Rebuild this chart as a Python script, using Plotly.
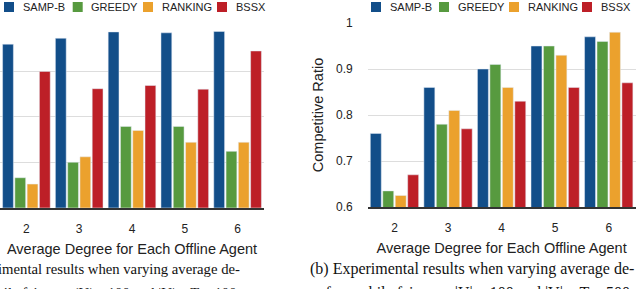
import plotly.graph_objects as go

W, H = 640, 289

categories = ["2", "3", "4", "5", "6"]
series_names = ["SAMP-B", "GREEDY", "RANKING", "BSSX"]
colors = ["#124e89", "#579a3f", "#eba12d", "#bd1f27"]

# left panel (a)
left_sampb = [0.960, 0.973, 0.987, 0.985, 0.988]
left_greedy = [0.666, 0.700, 0.779, 0.779, 0.724]
left_ranking = [0.652, 0.712, 0.770, 0.744, 0.744]
left_bssx = [0.900, 0.862, 0.869, 0.861, 0.945]

# right panel (b)
right_sampb = [0.76, 0.86, 0.90, 0.95, 0.97]
right_greedy = [0.635, 0.78, 0.91, 0.95, 0.96]
right_ranking = [0.625, 0.81, 0.86, 0.93, 0.98]
right_bssx = [0.67, 0.77, 0.83, 0.86, 0.87]

y_ticks = [0.6, 0.7, 0.8, 0.9, 1.0]
y_ticktext = ["0.6", "0.7", "0.8", "0.9", "1"]

x_title = "Average Degree for Each Offline Agent"
y_title = "Competitive Ratio"
caption_a1 = "(a) Experimental results when varying average de-"
caption_a2 = "gree for mobile fairness: |U| = 100 and |V| = T = 100."
caption_b1 = "(b) Experimental results when varying average de-"
caption_b2 = "gree for mobile fairness: |U| = 100 and |V| = T = 500."

SANS = "Liberation Sans, Arial, Helvetica, sans-serif"
SERIF = "Liberation Serif, Times New Roman, serif"

fig = go.Figure()
left_vals = [left_sampb, left_greedy, left_ranking, left_bssx]
right_vals = [right_sampb, right_greedy, right_ranking, right_bssx]
for name, col, vals in zip(series_names, colors, left_vals):
    fig.add_trace(go.Bar(x=categories, y=vals, name=name, marker_color=col,
                         xaxis="x", yaxis="y", showlegend=False))
for name, col, vals in zip(series_names, colors, right_vals):
    fig.add_trace(go.Bar(x=categories, y=vals, name=name, marker_color=col,
                         xaxis="x2", yaxis="y2", showlegend=False))

def px_x(p):
    return p / W

def px_y(p):
    return 1 - p / H

axis_common = dict(
    showline=True, linecolor="#333333", linewidth=1.5,
    ticks="", ticklabelstandoff=9,
    tickfont=dict(family=SANS, size=12, color="#222222"),
    automargin=False, fixedrange=True,
)
yaxis_common = dict(
    range=[0.6, 1.0], tickvals=y_ticks, ticktext=y_ticktext,
    showgrid=True, gridcolor="#dddddd", gridwidth=1,
    zeroline=False, showline=False, ticks="",
    tickfont=dict(family=SANS, size=12, color="#222222"),
    automargin=False, fixedrange=True,
)

fig.update_layout(
    width=W, height=H,
    margin=dict(l=0, r=0, t=0, b=0),
    paper_bgcolor="white", plot_bgcolor="white",
    barmode="group", bargap=0.07, bargroupgap=0.12,
    xaxis=dict(domain=[0, px_x(264)], anchor="y",
               title=dict(text=x_title, standoff=9,
                          font=dict(family=SANS, size=14.5, color="#222222")),
               **axis_common),
    xaxis2=dict(domain=[px_x(367.7), px_x(635.5)], anchor="y2",
                title=dict(text=x_title, standoff=9,
                           font=dict(family=SANS, size=14.5, color="#222222")),
                **axis_common),
    yaxis=dict(domain=[px_y(207.7), px_y(26)], anchor="x", showticklabels=False,
               **yaxis_common),
    yaxis2=dict(domain=[px_y(207), px_y(23)], anchor="x2", ticklabelstandoff=14,
                title=dict(text=y_title, standoff=8,
                           font=dict(family=SANS, size=14.5, color="#222222")),
                **yaxis_common),
)

# manual legends (layout decoration)
legend_left_px = [4, 72.7, 143, 217]
legend_right_px = [371, 439, 509, 582]
shapes = []
annotations = []
for offsets in (legend_left_px, legend_right_px):
    for name, col, x0 in zip(series_names, colors, offsets):
        shapes.append(dict(type="rect", xref="paper", yref="paper",
                           x0=px_x(x0), x1=px_x(x0 + 10),
                           y0=px_y(12), y1=px_y(2),
                           fillcolor=col, line=dict(width=0)))
        annotations.append(dict(xref="paper", yref="paper",
                                x=px_x(x0 + 16.5), y=px_y(7),
                                xanchor="left", yanchor="middle",
                                text=name, showarrow=False,
                                font=dict(family=SANS, size=11, color="#222222")))

# captions
cap_font_a = dict(family=SERIF, size=14.7, color="#111111")
cap_font_b = dict(family=SERIF, size=16, color="#111111")
annotations += [
    dict(xref="paper", yref="paper", x=px_x(242), y=px_y(280), xanchor="right",
         yanchor="bottom", text=caption_a1, showarrow=False, font=cap_font_a),
    dict(xref="paper", yref="paper", x=px_x(242), y=px_y(303), xanchor="right",
         yanchor="bottom", text=caption_a2, showarrow=False, font=cap_font_a),
    dict(xref="paper", yref="paper", x=px_x(636), y=px_y(280), xanchor="right",
         yanchor="bottom", text=caption_b1, showarrow=False, font=cap_font_b),
    dict(xref="paper", yref="paper", x=px_x(636), y=px_y(304), xanchor="right",
         yanchor="bottom", text=caption_b2, showarrow=False, font=cap_font_b),
]
fig.update_layout(shapes=shapes, annotations=annotations)

fig.write_html("out.html", config={"displayModeBar": False})

# remove the default 8px page margin so the figure sits at the window's corner
with open("out.html", encoding="utf-8") as f:
    html = f.read()
html = html.replace("<body>", '<body style="margin:0;padding:0;overflow:hidden">', 1)
with open("out.html", "w", encoding="utf-8") as f:
    f.write(html)
